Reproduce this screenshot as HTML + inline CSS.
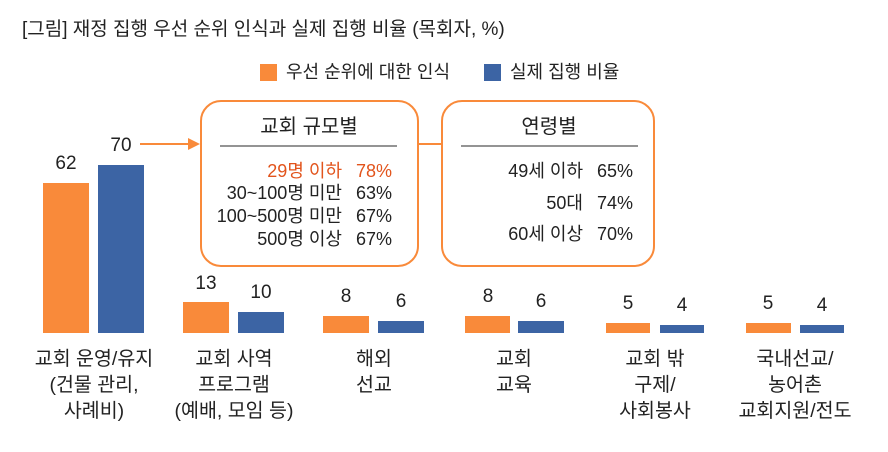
<!DOCTYPE html>
<html><head><meta charset="utf-8"><style>
body{margin:0;width:888px;height:452px;background:#fff;position:relative;font-family:"Liberation Sans","Noto Sans CJK KR",sans-serif;color:#222;overflow:hidden}
.t{position:absolute;white-space:nowrap;font-size:18px;line-height:20px}
.c{text-align:center;transform:translateX(-50%)}
.r{text-align:right;transform:translateX(-100%)}
.n{font-size:19px}
.l{font-size:19.5px;line-height:26px}
.b{position:absolute}
.o{background:#f98a3a}.u{background:#3c64a4}
</style></head><body>
<div class="t" style="left:22px;top:20px;font-size:19px">[그림] 재정 집행 우선 순위 인식과 실제 집행 비율 (목회자, %)</div>
<div class="b o" style="left:260px;top:64px;width:17px;height:17px"></div>
<div class="t" style="left:286px;top:62px;font-size:18px">우선 순위에 대한 인식</div>
<div class="b u" style="left:484px;top:64px;width:17px;height:17px"></div>
<div class="t" style="left:510px;top:62px;font-size:18px">실제 집행 비율</div>

<svg class="b" style="left:0;top:0" width="888" height="452">
<line x1="140" y1="144" x2="190" y2="144" stroke="#f98a3a" stroke-width="2"/>
<polygon points="188,138 200,144 188,150" fill="#f98a3a"/>
<line x1="418" y1="144" x2="441" y2="144" stroke="#f98a3a" stroke-width="2"/>
<rect x="201" y="101" width="217" height="165" rx="20" fill="none" stroke="#f98a3a" stroke-width="2"/>
<rect x="442" y="101" width="212" height="165" rx="20" fill="none" stroke="#f98a3a" stroke-width="2"/>
<line x1="220" y1="146" x2="397" y2="146" stroke="#555" stroke-width="1.2"/>
<line x1="461" y1="146" x2="638" y2="146" stroke="#555" stroke-width="1.2"/>
</svg>
<div class="t c" style="left:309px;top:117px;font-size:20px">교회 규모별</div>
<div class="t c" style="left:549px;top:117px;font-size:20px">연령별</div>
<div class="t r" style="left:342px;top:161px;color:#e2541c">29명 이하</div><div class="t r" style="left:392px;top:161px;color:#e2541c">78%</div>
<div class="t r" style="left:342px;top:183px">30~100명 미만</div><div class="t r" style="left:392px;top:183px">63%</div>
<div class="t r" style="left:342px;top:206px">100~500명 미만</div><div class="t r" style="left:392px;top:206px">67%</div>
<div class="t r" style="left:342px;top:229px">500명 이상</div><div class="t r" style="left:392px;top:229px">67%</div>
<div class="t r" style="left:583px;top:161px">49세 이하</div><div class="t r" style="left:633px;top:161px">65%</div>
<div class="t r" style="left:583px;top:193px">50대</div><div class="t r" style="left:633px;top:193px">74%</div>
<div class="t r" style="left:583px;top:224px">60세 이상</div><div class="t r" style="left:633px;top:224px">70%</div>

<div class="b o" style="left:43px;top:183px;width:46px;height:150px"></div>
<div class="b u" style="left:98px;top:165px;width:46px;height:168px"></div>
<div class="t c n" style="left:66px;top:154px">62</div><div class="t c n" style="left:121px;top:136px">70</div>
<div class="b o" style="left:183px;top:302px;width:46px;height:31px"></div>
<div class="b u" style="left:238px;top:312px;width:46px;height:21px"></div>
<div class="t c n" style="left:206px;top:274px">13</div><div class="t c n" style="left:261px;top:283px">10</div>
<div class="b o" style="left:323px;top:316px;width:46px;height:17px"></div>
<div class="b u" style="left:378px;top:321px;width:46px;height:12px"></div>
<div class="t c n" style="left:346px;top:287px">8</div><div class="t c n" style="left:401px;top:292px">6</div>
<div class="b o" style="left:465px;top:316px;width:45px;height:17px"></div>
<div class="b u" style="left:518px;top:321px;width:46px;height:12px"></div>
<div class="t c n" style="left:488px;top:287px">8</div><div class="t c n" style="left:541px;top:292px">6</div>
<div class="b o" style="left:606px;top:323px;width:44px;height:10px"></div>
<div class="b u" style="left:660px;top:325px;width:44px;height:8px"></div>
<div class="t c n" style="left:628px;top:294px">5</div><div class="t c n" style="left:682px;top:296px">4</div>
<div class="b o" style="left:746px;top:323px;width:45px;height:10px"></div>
<div class="b u" style="left:800px;top:325px;width:44px;height:8px"></div>
<div class="t c n" style="left:768px;top:294px">5</div><div class="t c n" style="left:822px;top:296px">4</div>

<div class="t c l" style="left:94px;top:346px">교회 운영/유지<br>(건물 관리,<br>사례비)</div>
<div class="t c l" style="left:234px;top:346px">교회 사역<br>프로그램<br>(예배, 모임 등)</div>
<div class="t c l" style="left:374px;top:346px">해외<br>선교</div>
<div class="t c l" style="left:514px;top:346px">교회<br>교육</div>
<div class="t c l" style="left:655px;top:346px">교회 밖<br>구제/<br>사회봉사</div>
<div class="t c l" style="left:795px;top:346px">국내선교/<br>농어촌<br>교회지원/전도</div>
</body></html>
